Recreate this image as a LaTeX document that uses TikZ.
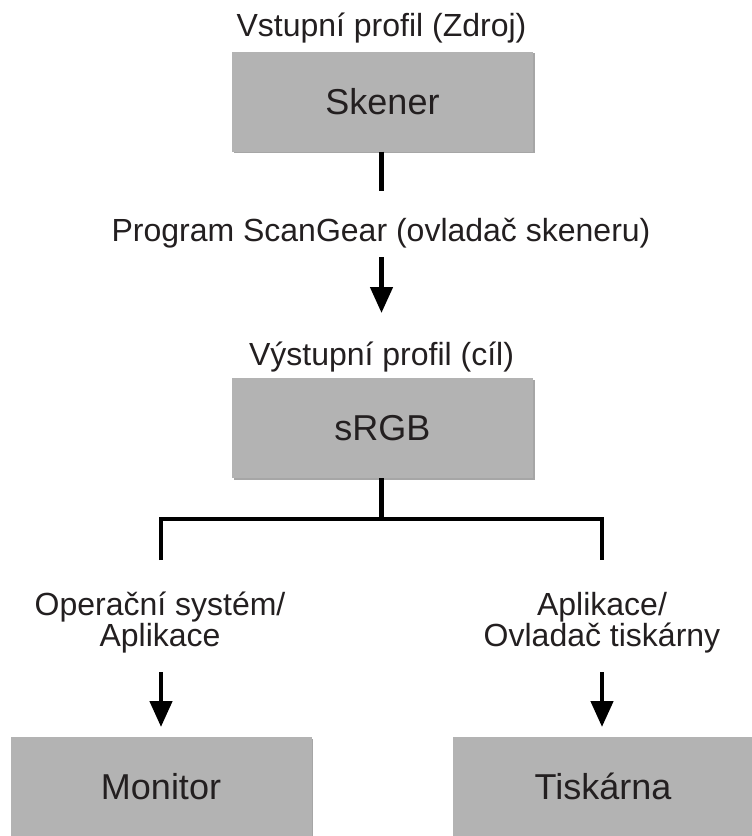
\documentclass[tikz,border=0pt]{standalone}
\usepackage{fontspec}
\setmainfont{Liberation Sans}
\usetikzlibrary{arrows.meta,shadows}
\definecolor{boxgray}{HTML}{B3B3B3}
\definecolor{txt}{HTML}{231F20}
\begin{document}
\begin{tikzpicture}[x=1pt,y=-1pt,
  lbl/.style={font=\fontsize{32}{31}\selectfont, text=txt, inner sep=0pt, anchor=base, align=center},
  boxnode/.style={fill=boxgray, minimum width=301pt, minimum height=100pt, inner sep=0pt,
    text height=25.5pt, text depth=0pt,
    font=\fontsize{36}{37}\selectfont, text=txt,
    drop shadow={shadow xshift=1.5pt, shadow yshift=-1.5pt, opacity=0.35, fill=black}},
  conn/.style={line width=4.6pt, draw=black},
  arr/.style={conn, -{Triangle[width=22pt,length=26pt]}}]
\clip (0,0) rectangle (752,836);
\fill[white] (0,0) rectangle (752,836);

% boxes
\node[boxnode] (sk) at (382.5,101.5) {Skener};
\node[boxnode] (srgb) at (382.5,428) {sRGB};
\node[boxnode] (mon) at (161,787) {Monitor};
\node[boxnode] (tis) at (603,787) {Tiskárna};

% labels
\node[lbl] (inlbl) at (381.5,36) {Vstupní profil (Zdroj)};
\node[lbl] (prog) at (381,241) {Program ScanGear (ovladač skeneru)};
\node[lbl] (outlbl) at (381.5,365) {Výstupní profil (cíl)};
\node[lbl] (os1) at (160,615) {Operační systém/};
\node[lbl] (os2) at (160,646) {Aplikace};
\node[lbl] (ap1) at (602,615) {Aplikace/};
\node[lbl] (ap2) at (602,646) {Ovladač tiskárny};

% connector coordinates
\coordinate (skend) at (381.5,191);
\coordinate (a1s) at (381.5,257);
\coordinate (a1e) at (381.5,313);
\coordinate (j) at (381.5,519);
\coordinate (ld) at (161,560);
\coordinate (rd) at (602,560);
\coordinate (a2s) at (161,672);
\coordinate (a2e) at (161,727);
\coordinate (a3s) at (602,672);
\coordinate (a3e) at (602,727);

\draw[conn] (sk.south -| skend) -- (skend);
\draw[arr] (a1s) -- (a1e);
\draw[conn] (srgb.south -| j) -- (j);
\draw[conn, line join=miter] (ld) -- (ld |- j) -- (rd |- j) -- (rd);
\draw[arr] (a2s) -- (a2e);
\draw[arr] (a3s) -- (a3e);
\end{tikzpicture}
\end{document}
